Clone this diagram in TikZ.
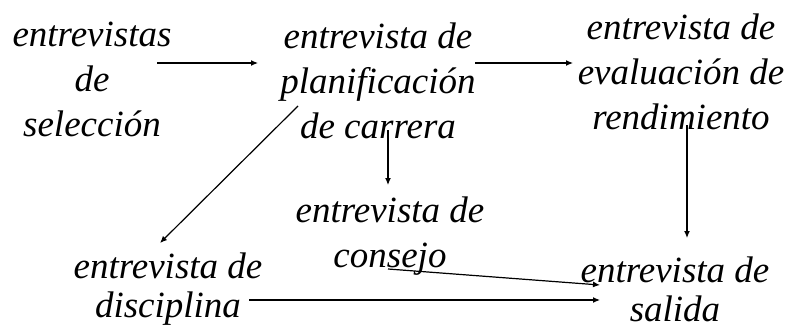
\documentclass[tikz,border=0pt]{standalone}
\usepackage{fontspec}
\setmainfont{Liberation Serif}
\usetikzlibrary{arrows.meta,calc}
\begin{document}
\begin{tikzpicture}[x=1pt,y=-1pt,
  lbl/.style={align=center,inner sep=0pt,font=\itshape\fontsize{37}{45}\selectfont},
  lbltight/.style={align=center,inner sep=0pt,font=\itshape\fontsize{37}{39}\selectfont},
  arr/.style={line width=1.2pt,-{Latex[length=7pt,width=6pt]}}]
\useasboundingbox (0,0) rectangle (795,329);
\node[lbl] (sel) at (92,79.5) {entrevistas\\de\\selección};
\node[lbl] (plan) at (378,80.5) {entrevista de\\planificación\\de carrera};
\node[lbl] (eval) at (681,71.5) {entrevista de\\evaluación de\\rendimiento};
\node[lbl] (cons) at (390,236) {entrevista de\\consejo};
\node[lbltight] (disc) at (168,289) {entrevista de\\disciplina};
\node[lbltight] (sal) at (675,289) {entrevista de\\salida};
\draw[arr] ($(sel.center)+(65,-16.5)$) -- ($(plan.center)+(-120,-17.5)$);
\draw[arr] ($(plan.center)+(97,-17.5)$) -- ($(eval.center)+(-108,-8.5)$);
\draw[arr] ($(plan.center)+(-80,25.5)$) -- ($(disc.center)+(-8,-46)$);
\draw[arr] ($(plan.center)+(10,49.5)$) -- ($(cons.center)+(-2,-51)$);
\draw[arr] ($(eval.center)+(6,53.5)$) -- ($(sal.center)+(12,-51)$);
\draw[arr] ($(cons.center)+(-2,33)$) -- ($(sal.center)+(-75,-4)$);
\draw[arr] ($(disc.center)+(81,11)$) -- ($(sal.center)+(-75,11)$);
\end{tikzpicture}
\end{document}
